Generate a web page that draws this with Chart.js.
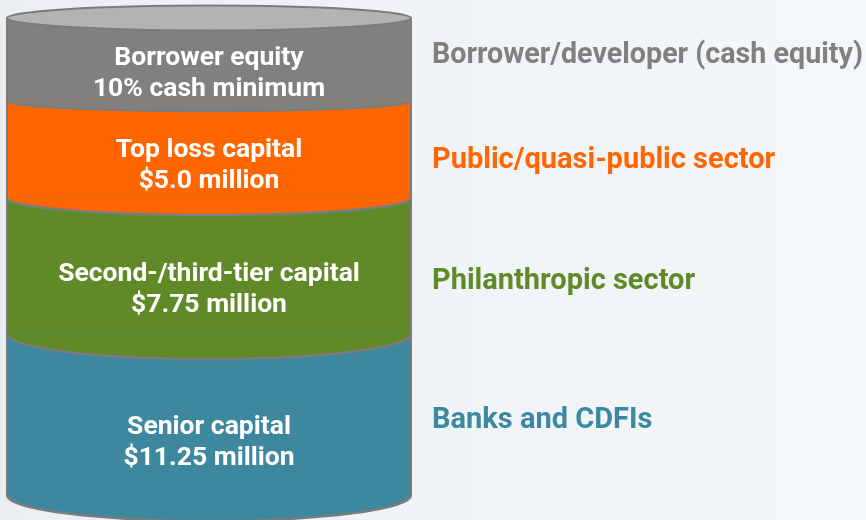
<!DOCTYPE html>
<html>
<head>
<meta charset="utf-8">
<script src="https://cdn.jsdelivr.net/npm/chart.js@4"></script>
<style>
    html, body { margin: 0; padding: 0; }
    body {
        width: 866px; height: 520px; overflow: hidden;
        background: linear-gradient(90deg, #e9eff3 0%, #f0f4f7 55%, #f4f7fa 100%);
    }
    canvas { display: block; }
</style>
</head>
<body>
<canvas id="graficoCilindro" width="866" height="520"></canvas>
<script>
// ============================================
// CAPITAL STACK - CYLINDER
// ============================================
// layers listed bottom -> top
const layerNames = ['Senior capital', 'Second-/third-tier capital', 'Top loss capital', 'Borrower equity'];
const layerAmounts = ['$11.25 million', '$7.75 million', '$5.0 million', '10% cash minimum'];
// drawn thickness of each layer (not to scale with the amounts)
const layerHeights = [161, 136, 97, 83];
const sourceLabels = ['Banks and CDFIs', 'Philanthropic sector', 'Public/quasi-public sector', 'Borrower/developer (cash equity)'];

const CORES = {
    camadas: ['#3e889f', '#608a28', '#ff6600', '#808080'],
    fontes: ['#3b88a0', '#5f8a28', '#ff6600', '#808080'],
    tampa: '#b3b3b3',
    contorno: '#7c7c7c'
};

const FONTE = '"Roboto", "Liberation Sans", sans-serif';

const cylinderPlugin = {
    id: 'cylinder',
    afterDatasetsDraw(chart, args, opts) {
        const ctx = chart.ctx;
        const bars = chart.data.datasets.map((d, i) => chart.getDatasetMeta(i).data[0]);
        const cx = bars[0].x;
        const rx = bars[0].width / 2;
        const topo = bars[bars.length - 1].y;
        const fundo = bars[0].base;

        ctx.save();

        // curved bottom of each layer
        bars.forEach((bar, i) => {
            ctx.beginPath();
            ctx.ellipse(cx, bar.base, rx, opts.depths[i], 0, 0, Math.PI);
            ctx.closePath();
            ctx.fillStyle = CORES.camadas[i];
            ctx.fill();
        });
        ctx.lineWidth = 2.5;
        ctx.strokeStyle = CORES.contorno;
        bars.forEach((bar, i) => {
            ctx.beginPath();
            ctx.ellipse(cx, bar.base, rx, opts.depths[i], 0, 0, Math.PI);
            ctx.stroke();
        });

        // sides
        ctx.lineWidth = 2;
        ctx.beginPath();
        ctx.moveTo(cx - rx, topo);
        ctx.lineTo(cx - rx, fundo);
        ctx.moveTo(cx + rx, topo);
        ctx.lineTo(cx + rx, fundo);
        ctx.stroke();

        // lid
        ctx.beginPath();
        ctx.ellipse(cx, topo, rx, opts.topDepth, 0, 0, Math.PI * 2);
        ctx.fillStyle = CORES.tampa;
        ctx.fill();
        ctx.lineWidth = 2;
        ctx.strokeStyle = CORES.contorno;
        ctx.stroke();

        // text inside the layers
        ctx.textAlign = 'center';
        ctx.textBaseline = 'alphabetic';
        ctx.fillStyle = '#ffffff';
        ctx.font = `bold ${opts.innerSize}px ${FONTE}`;
        const capMeio = opts.innerSize * 0.355;
        bars.forEach((bar, i) => {
            const cima = i === bars.length - 1 ? bar.y + opts.topDepth : bar.y + opts.depths[i + 1];
            const baixo = bar.base + opts.depths[i];
            const meio = (cima + baixo) / 2;
            ctx.fillText(layerNames[i], cx, meio - opts.lineGap / 2 + capMeio);
            ctx.fillText(layerAmounts[i], cx, meio + opts.lineGap / 2 + capMeio);
        });

        // sources on the right
        ctx.textAlign = 'left';
        ctx.font = `bold ${opts.sideSize}px ${FONTE}`;
        const maxW = chart.width - opts.sideX - 3;
        bars.forEach((bar, i) => {
            const y = (bar.y + bar.base) / 2 + opts.sideNudge[i] + opts.sideSize * 0.355;
            ctx.fillStyle = CORES.fontes[i];
            ctx.fillText(sourceLabels[i], opts.sideX, y, maxW);
        });

        ctx.restore();
    }
};

const total = layerHeights.reduce((a, b) => a + b, 0);

new Chart(document.getElementById('graficoCilindro').getContext('2d'), {
    type: 'bar',
    data: {
        labels: ['Capital stack'],
        datasets: layerHeights.map((h, i) => ({
            label: layerNames[i],
            data: [h],
            backgroundColor: CORES.camadas[i],
            borderWidth: 0,
            barPercentage: 1,
            categoryPercentage: 1
        }))
    },
    options: {
        responsive: false,
        animation: false,
        layout: { padding: { left: 7, right: 455, top: 18, bottom: 25 } },
        scales: {
            x: { stacked: true, display: false },
            y: { stacked: true, display: false, min: 0, max: total }
        },
        plugins: {
            legend: { display: false },
            tooltip: { enabled: false },
            cylinder: {
                depths: [26, 25, 17, 10],
                topDepth: 12.5,
                innerSize: 26.5,
                lineGap: 31,
                sideSize: 29,
                sideX: 432,
                sideNudge: [3.5, 13, 8.5, -6.5]
            }
        }
    },
    plugins: [cylinderPlugin]
});
</script>
</body>
</html>
